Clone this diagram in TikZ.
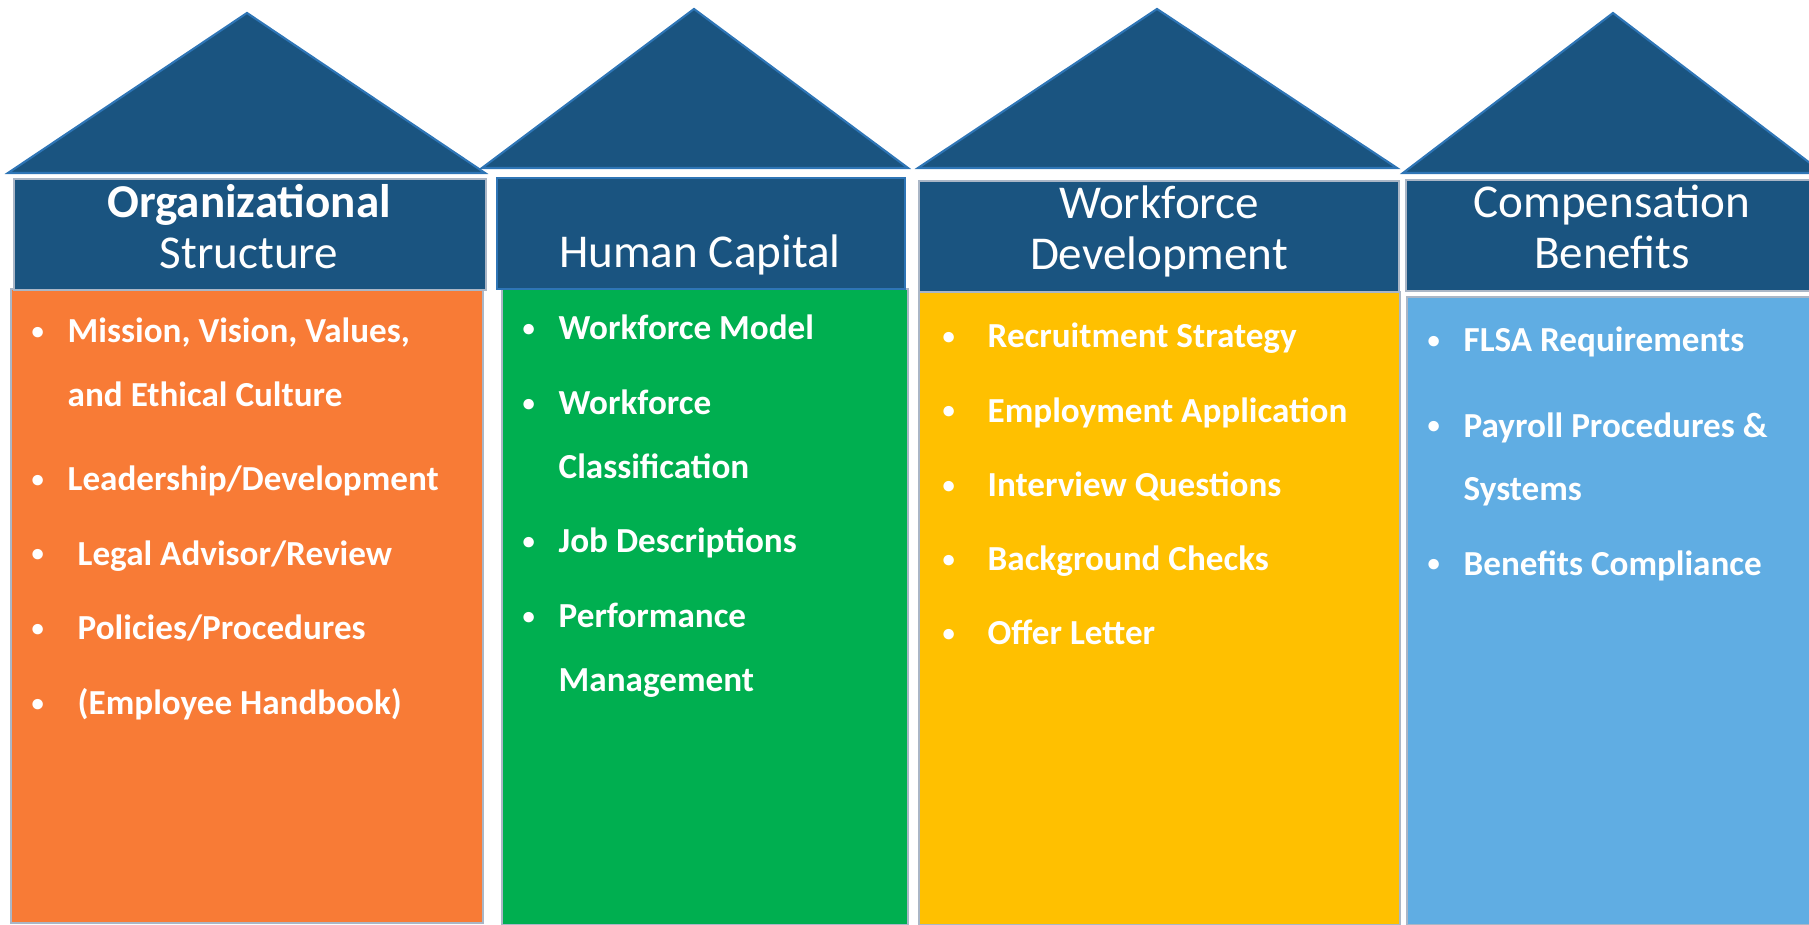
\documentclass[tikz,border=0pt]{standalone}
\usepackage{fontspec}
\setmainfont{Carlito}
\usepackage{tikz}
\usetikzlibrary{positioning}
\usepackage{xcolor}
\definecolor{roofblue}{RGB}{26,84,128}
\definecolor{roofline}{RGB}{46,117,182}
\definecolor{edgegray}{RGB}{170,182,198}
\definecolor{pillarorange}{RGB}{248,123,54}
\definecolor{pillargreen}{RGB}{0,175,80}
\definecolor{pillaryellow}{RGB}{255,192,0}
\definecolor{pillarblue}{RGB}{96,173,227}
% small list bullet
\newcommand{\pbullet}{\hspace{0.03cm}\raisebox{0.9pt}{\fontsize{7}{7}\selectfont\textbullet}}

\begin{document}
\begin{tikzpicture}[
    roof/.style={fill=roofblue, draw=roofline, line width=0.6pt, line join=miter},
    header/.style={rectangle, fill=roofblue, draw=edgegray, line width=0.6pt, inner sep=0, minimum height=1.11cm},
    pillar/.style={rectangle, draw=edgegray, line width=0.6pt, inner sep=0},
    title/.style={anchor=base, inner sep=0, text=white, font=\fontsize{13.4}{14.5}\selectfont},
    items/.style={anchor=base west, inner sep=0, text=white, font=\fontsize{10}{18}\selectfont\bfseries}
]
    \useasboundingbox (0,0) rectangle (18.09,9.25);
    \clip (0,0) rectangle (18.09,9.25);

    % roofs
    \filldraw [roof] (0.08,7.52) -- (2.47,9.12) -- (4.85,7.52) -- cycle;
    \filldraw [roof] (4.82,7.57) -- (6.94,9.16) -- (9.08,7.57) -- cycle;
    \filldraw [roof] (9.18,7.57) -- (11.57,9.16) -- (13.97,7.57) -- cycle;
    \filldraw [roof] (14.03,7.52) -- (16.13,9.12) -- (18.23,7.52) -- cycle;

    % pillars
    \node [pillar, fill=pillarorange, minimum width=4.72cm, minimum height=6.34cm] (org) at (2.47, 3.19) {};
    \node [pillar, fill=pillargreen, minimum width=4.06cm, minimum height=6.36cm] (hc) at (7.05, 3.18) {};
    \node [pillar, fill=pillaryellow, minimum width=4.81cm, minimum height=6.33cm] (wfd) at (11.595, 3.165) {};
    \node [pillar, fill=pillarblue, minimum width=4.11cm, minimum height=6.28cm] (comp) at (16.125, 3.14) {};

    % header bars
    \node [header, minimum width=4.72cm] (orgHead) at (2.50, 6.905) {};
    \node [header, draw=roofline, minimum width=4.08cm] (hcHead) at (7.01, 6.915) {};
    \node [header, minimum width=4.80cm] (wfdHead) at (11.59, 6.885) {};
    \node [header, minimum width=4.12cm] (compHead) at (16.12, 6.895) {};

    \node [title] (orgTitle) at (2.49, 7.07) {\begin{tabular}[t]{@{}c@{}}\textbf{Organizational}\\Structure\end{tabular}};
    \node [title] (hcTitle) at (7.00, 6.57) {Human Capital};
    \node [title] (wfdTitle) at (11.59, 7.06) {\begin{tabular}[t]{@{}c@{}}Workforce\\Development\end{tabular}};
    \node [title] (compTitle) at (16.12, 7.07) {\begin{tabular}[t]{@{}c@{}}Compensation\\Benefits\end{tabular}};

    % bullet lists
    \node [items] (orgList) at (0.28, 5.82) {\begin{tabular}[t]{@{}p{0.39cm}@{}l@{}}
        \pbullet & Mission, Vision, Values,\\
                 & and Ethical Culture\\[5.9pt]
        \pbullet & Leadership/Development\\[3.3pt]
        \pbullet & \hspace{0.1cm}Legal Advisor/Review\\[3.3pt]
        \pbullet & \hspace{0.1cm}Policies/Procedures\\[3.3pt]
        \pbullet & \hspace{0.1cm}(Employee Handbook)
    \end{tabular}};
    \node [items] (hcList) at (5.19, 5.85) {\begin{tabular}[t]{@{}p{0.39cm}@{}l@{}}
        \pbullet & Workforce Model\\[3.3pt]
        \pbullet & Workforce\\
                 & Classification\\[3.3pt]
        \pbullet & Job Descriptions\\[3.3pt]
        \pbullet & Performance\\
                 & Management
    \end{tabular}};
    \node [items] (wfdList) at (9.39, 5.77) {\begin{tabular}[t]{@{}p{0.48cm}@{}l@{}}
        \pbullet & Recruitment Strategy\\[3.1pt]
        \pbullet & Employment Application\\[3.1pt]
        \pbullet & Interview Questions\\[3.1pt]
        \pbullet & Background Checks\\[3.1pt]
        \pbullet & Offer Letter
    \end{tabular}};
    \node [items] (compList) at (14.24, 5.73) {\begin{tabular}[t]{@{}p{0.39cm}@{}l@{}}
        \pbullet & FLSA Requirements\\[6.2pt]
        \pbullet & Payroll Procedures \&\\
                 & Systems\\[3.3pt]
        \pbullet & Benefits Compliance
    \end{tabular}};
\end{tikzpicture}
\end{document}
